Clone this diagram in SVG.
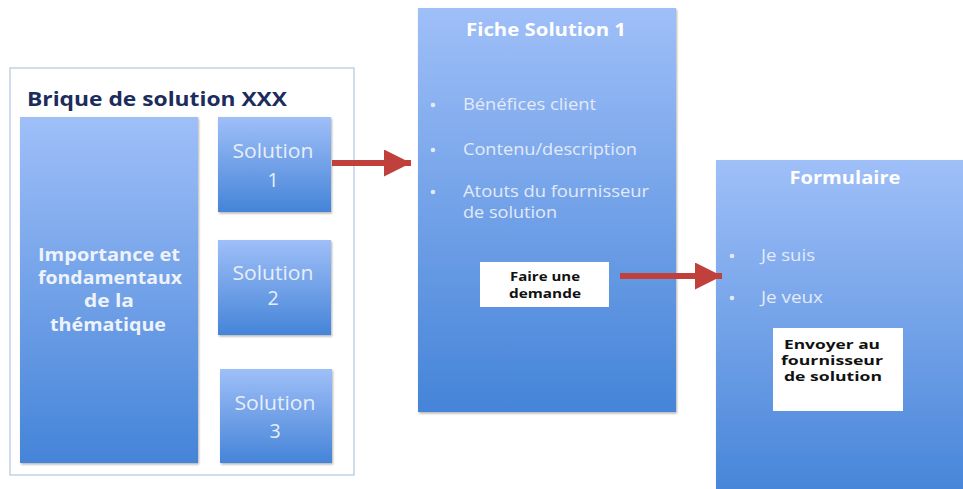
<svg xmlns="http://www.w3.org/2000/svg" width="963" height="489" viewBox="0 0 963 489">
<defs>
<linearGradient id="g" x1="0" y1="0" x2="0" y2="1">
<stop offset="0" stop-color="#9fbff8"/>
<stop offset="1" stop-color="#4584d8"/>
</linearGradient>
<filter id="sh" x="-10%" y="-10%" width="120%" height="120%">
<feDropShadow dx="1" dy="1.5" stdDeviation="1.2" flood-color="#000" flood-opacity="0.3"/>
</filter>
<marker id="ah" viewBox="0 0 10 10" refX="10" refY="5" markerWidth="4.5" markerHeight="4.5" orient="auto" markerUnits="strokeWidth">
<path d="M0,0 L10,5 L0,10 z" fill="#c0403c"/>
</marker>
<style>
.box{fill:url(#g);filter:url(#sh)}
.wbox{fill:#ffffff}
.t{font-family:"Open Sans","Liberation Sans",sans-serif}
.title{font-weight:bold;font-size:18.5px;fill:#ffffff;text-anchor:middle}
.big{font-weight:bold;font-size:18px;fill:#eef3fb;text-anchor:middle}
.sol{font-size:19.5px;fill:#e8eef8;text-anchor:middle}
.li{font-size:16px;fill:#e3eaf8}
.dot{fill:#e3eaf8}
.btn{font-weight:bold;font-size:11.5px;fill:#111111;text-anchor:middle}
.conn{stroke:#c0403c;stroke-width:6;fill:none;marker-end:url(#ah)}
</style>
</defs>

<g id="brique">
<rect x="10" y="68" width="344" height="407" fill="#ffffff" stroke="#b5c6de" stroke-width="1.2"/>
<text class="t" x="27" y="106" font-weight="bold" font-size="20" fill="#1c2c5c" textLength="260" lengthAdjust="spacingAndGlyphs">Brique de solution XXX</text>
</g>

<g id="importance">
<rect class="box" x="20" y="117" width="178" height="346"/>
<text class="t big" x="109" y="261" textLength="142" lengthAdjust="spacingAndGlyphs">Importance et</text>
<text class="t big" x="110" y="284" textLength="144" lengthAdjust="spacingAndGlyphs">fondamentaux</text>
<text class="t big" x="109" y="307" textLength="50" lengthAdjust="spacingAndGlyphs">de la</text>
<text class="t big" x="108" y="331" textLength="116" lengthAdjust="spacingAndGlyphs">thématique</text>
</g>

<g id="solution1">
<rect class="box" x="218" y="117" width="113" height="95"/>
<text class="t sol" x="273" y="158" textLength="81" lengthAdjust="spacingAndGlyphs">Solution</text>
<text class="t sol" x="273" y="187">1</text>
</g>

<g id="solution2">
<rect class="box" x="218" y="240" width="113" height="95"/>
<text class="t sol" x="273" y="280" textLength="81" lengthAdjust="spacingAndGlyphs">Solution</text>
<text class="t sol" x="273" y="305">2</text>
</g>

<g id="solution3">
<rect class="box" x="220" y="369" width="112" height="94"/>
<text class="t sol" x="275" y="410" textLength="81" lengthAdjust="spacingAndGlyphs">Solution</text>
<text class="t sol" x="275" y="438">3</text>
</g>

<g id="fiche">
<rect class="box" x="418" y="8" width="258" height="404"/>
<text class="t title" x="546" y="36" textLength="160" lengthAdjust="spacingAndGlyphs">Fiche Solution 1</text>
<circle class="dot" cx="433" cy="105" r="2.3"/>
<text class="t li" x="463" y="110" textLength="133" lengthAdjust="spacingAndGlyphs">Bénéfices client</text>
<circle class="dot" cx="433" cy="150" r="2.3"/>
<text class="t li" x="463" y="155" textLength="174" lengthAdjust="spacingAndGlyphs">Contenu/description</text>
<circle class="dot" cx="433" cy="192" r="2.3"/>
<text class="t li" x="463" y="197" textLength="186" lengthAdjust="spacingAndGlyphs">Atouts du fournisseur</text>
<text class="t li" x="463" y="218" textLength="94" lengthAdjust="spacingAndGlyphs">de solution</text>
<rect class="wbox" x="480" y="262" width="129" height="45"/>
<text class="t btn" x="545" y="281" textLength="70" lengthAdjust="spacingAndGlyphs">Faire une</text>
<text class="t btn" x="545" y="298" textLength="72" lengthAdjust="spacingAndGlyphs">demande</text>
</g>

<g id="formulaire">
<rect class="box" x="716" y="160" width="250" height="340"/>
<text class="t title" x="845" y="184" textLength="111" lengthAdjust="spacingAndGlyphs">Formulaire</text>
<circle class="dot" cx="732" cy="256" r="2.3"/>
<text class="t li" x="761" y="261" textLength="54" lengthAdjust="spacingAndGlyphs">Je suis</text>
<circle class="dot" cx="732" cy="298" r="2.3"/>
<text class="t li" x="761" y="303" textLength="62" lengthAdjust="spacingAndGlyphs">Je veux</text>
<rect class="wbox" x="773" y="328" width="130" height="83"/>
<text class="t btn" x="832" y="349" textLength="96" lengthAdjust="spacingAndGlyphs">Envoyer au</text>
<text class="t btn" x="832" y="365" textLength="102" lengthAdjust="spacingAndGlyphs">fournisseur</text>
<text class="t btn" x="833" y="381" textLength="98" lengthAdjust="spacingAndGlyphs">de solution</text>
</g>

<g id="connectors">
<line class="conn" x1="332" y1="163" x2="411" y2="163"/>
<line class="conn" x1="620" y1="276" x2="722" y2="276"/>
</g>
</svg>
